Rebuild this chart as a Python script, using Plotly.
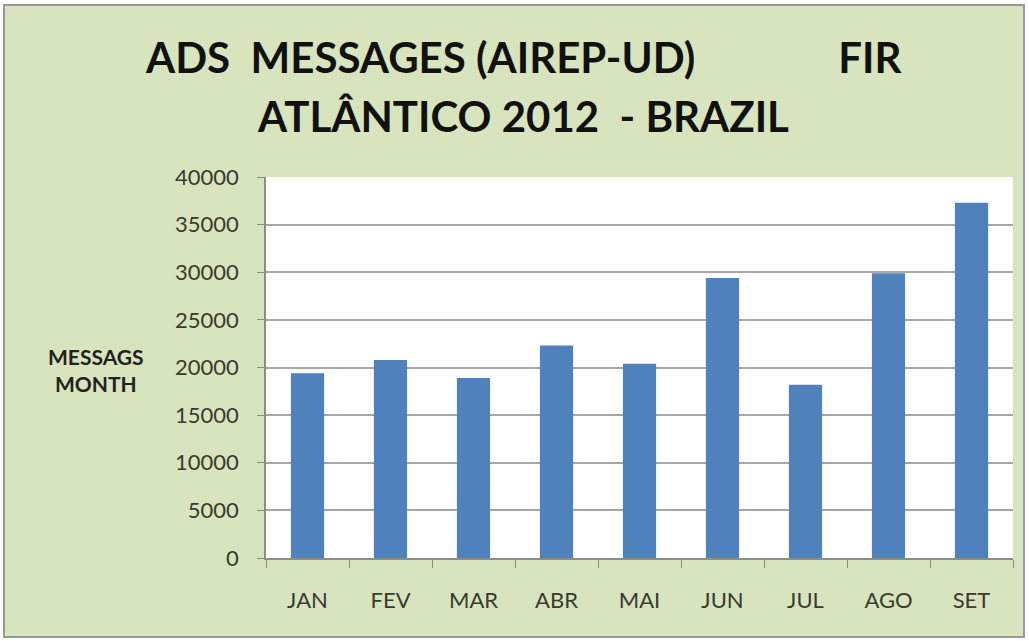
import plotly.graph_objects as go

months = ["JAN", "FEV", "MAR", "ABR", "MAI", "JUN", "JUL", "AGO", "SET"]
messages = [19400, 20800, 18900, 22300, 20400, 29400, 18200, 29900, 37300]
y_ticks = [0, 5000, 10000, 15000, 20000, 25000, 30000, 35000, 40000]

W, H = 1029, 641
L, R, T, B = 266, 16, 177, 83
pw, ph = W - L - R, H - T - B

def px(x):
    return (x - L) / pw

def py(y):
    return (H - B - y) / ph

GREEN = "#D7E4BD"
FONT = "Lato"

fig = go.Figure()
fig.add_trace(go.Bar(x=months, y=messages, marker=dict(color="#4F81BD", line=dict(width=0)), width=0.4))

fig.update_layout(
    width=W, height=H,
    margin=dict(l=L, r=R, t=T, b=B),
    paper_bgcolor=GREEN,
    plot_bgcolor="white",
    showlegend=False,
    font=dict(family=FONT, color="#333333"),
)
fig.update_xaxes(
    showline=True, linecolor="#8C8C8C", linewidth=1.5,
    ticks="outside", tickson="boundaries", ticklen=8, tickcolor="#8C8C8C",
    tickfont=dict(size=22, family=FONT, color="#3A3A30"),
    ticklabelstandoff=22,
    showgrid=False,
)
fig.update_yaxes(
    range=[0, 40000], tickvals=y_ticks, ticktext=[str(v) for v in y_ticks],
    showline=True, linecolor="#8C8C8C", linewidth=1.5,
    ticks="outside", ticklen=7, tickcolor="#8C8C8C",
    tickfont=dict(size=22, family=FONT, color="#3A3A30"),
    ticklabelstandoff=14,
    showgrid=True, gridcolor="#A6A6A6", gridwidth=1.5,
    zeroline=False,
)

fig.add_annotation(
    text="<b>ADS  MESSAGES (AIREP-UD)              FIR</b>",
    xref="paper", yref="paper", x=px(524), y=py(57), showarrow=False,
    font=dict(size=42, family=FONT, color="#111111"), xanchor="center", yanchor="middle",
)
fig.add_annotation(
    text="<b>ATLÂNTICO 2012  - BRAZIL</b>",
    xref="paper", yref="paper", x=px(523), y=py(116), showarrow=False,
    font=dict(size=42, family=FONT, color="#111111"), xanchor="center", yanchor="middle",
)
fig.add_annotation(
    text="<b>MESSAGS<br>MONTH</b>",
    xref="paper", yref="paper", x=px(96), y=py(370), showarrow=False,
    font=dict(size=21, family=FONT, color="#222222"), xanchor="center", yanchor="middle",
)

# outer white margin and grey chart border
fig.add_shape(type="rect", xref="paper", yref="paper",
              x0=px(0), x1=px(W), y0=py(H), y1=py(0),
              line=dict(color="white", width=8), fillcolor="rgba(0,0,0,0)")
fig.add_shape(type="rect", xref="paper", yref="paper",
              x0=px(4), x1=px(1024), y0=py(637), y1=py(5),
              line=dict(color="#999999", width=2), fillcolor="rgba(0,0,0,0)")

fig.write_html("out.html")
